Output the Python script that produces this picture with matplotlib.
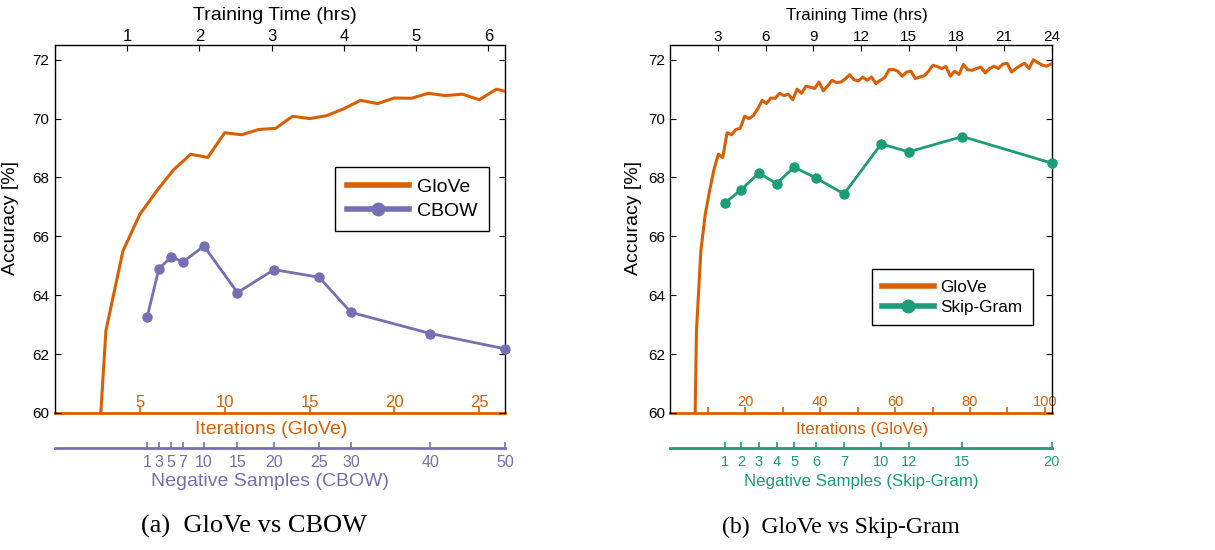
import numpy as np
import matplotlib.pyplot as plt

plt.rcParams['font.family'] = 'Liberation Sans'

ORANGE = '#D95F02'
PURPLE = '#7570B3'
GREEN = '#1B9E77'

# --- GloVe accuracy per iteration (iterations 2..84), same run in both panels ---
glove_iters = np.arange(2, 85)
glove_acc = [53.5, 62.8, 65.5, 66.75, 67.55, 68.27, 68.79, 68.68,
             69.52, 69.45, 69.63, 69.67, 70.08, 70.0, 70.1, 70.33, 70.62, 70.51,
             70.7, 70.69, 70.86, 70.78, 70.83, 70.64, 71.0, 70.86, 71.1, 71.07,
             71.02, 71.24, 70.94, 71.12, 71.3, 71.22, 71.24, 71.35, 71.49, 71.32,
             71.28, 71.41, 71.3, 71.41, 71.19, 71.3, 71.39, 71.66, 71.67, 71.61,
             71.44, 71.58, 71.61, 71.36, 71.41, 71.45, 71.6, 71.81, 71.77, 71.7,
             71.77, 71.44, 71.61, 71.5, 71.84, 71.66, 71.64, 71.7, 71.75, 71.55,
             71.7, 71.78, 71.7, 71.85, 71.88, 71.58, 71.7, 71.8, 71.88, 71.7,
             72.0, 71.9, 71.82, 71.78, 71.85]

# --- CBOW (panel a) ---
cbow_hrs = [1.277, 1.438, 1.61, 1.771, 2.062, 2.526, 3.033, 3.657, 4.097, 5.197, 6.23]
cbow_acc = [63.27, 64.9, 65.3, 65.13, 65.67, 64.09, 64.87, 64.61, 63.42, 62.7, 62.18]
cbow_neg = [1, 3, 5, 7, 10, 15, 20, 25, 30, 40, 50]

# --- Skip-Gram (panel b) ---
sg_hrs = [3.44, 4.44, 5.56, 6.68, 7.78, 9.17, 10.92, 13.27, 15.0, 18.38, 24.0]
sg_acc = [67.14, 67.58, 68.15, 67.79, 68.35, 67.98, 67.44, 69.14, 68.87, 69.39, 68.49]
sg_neg = [1, 2, 3, 4, 5, 6, 7, 10, 12, 15, 20]

# hours per GloVe iteration as drawn in each panel
hpi_a = 0.235
t0_b, hpi_b = 0.809, 0.2755
iter_hpi_b = 0.2357   # scale used by the iteration axis in panel (b)

fig = plt.figure(figsize=(12.15, 5.5), dpi=100)


def panel(rect, glove_hrs, o_hrs, o_acc, o_neg, o_name, o_color, xmax, iter_hpi,
          iter_ticks, iter_labels, hr_ticks, fs, cx, leg_anchor, hlen):
    ax = fig.add_axes(rect)
    ax.plot(glove_hrs, glove_acc, color=ORANGE, lw=2.2, label='GloVe', zorder=3)
    ax.plot(o_hrs, o_acc, color=o_color, lw=2.0, marker='o', ms=6.5,
            label=o_name, clip_on=False, zorder=4)
    ax.set_xlim(0, xmax)
    ax.set_ylim(60, 72.5)
    ax.set_yticks(np.arange(60, 73, 2))
    ax.tick_params(axis='y', direction='in', left=True, right=True, length=4,
                   labelsize=11, pad=4)
    ax.xaxis.tick_top()
    ax.set_xticks(hr_ticks)
    ax.tick_params(axis='x', direction='in', length=4, labelsize=fs['top'], pad=1)
    for s in ['left', 'right', 'top']:
        ax.spines[s].set_linewidth(1.0)
    ax.spines['bottom'].set_visible(False)

    # iterations axis (labels inside the plot)
    it = ax.secondary_xaxis('bottom', functions=(lambda h: h / iter_hpi,
                                                 lambda i: i * iter_hpi))
    it.set_xticks(iter_ticks, labels=iter_labels)
    it.tick_params(direction='in', length=4, width=1.2, colors=ORANGE,
                   labelsize=fs['iter'], pad=fs['ipad'])
    for lab in it.get_xticklabels():
        lab.set_verticalalignment('baseline')
    it.spines['bottom'].set_color(ORANGE)
    it.spines['bottom'].set_linewidth(2)

    # negative samples axis
    ng = ax.secondary_xaxis(-0.095)
    ng.set_xticks(o_hrs, labels=[str(n) for n in o_neg])
    ng.tick_params(direction='in', length=4, width=1.2, colors=o_color,
                   labelsize=fs['neg'], pad=5)
    ng.spines['bottom'].set_color(o_color)
    ng.spines['bottom'].set_linewidth(2)

    ax.text(cx[0], -0.0435, 'Iterations (GloVe)', transform=ax.transAxes,
            ha='center', va='center', color=ORANGE, fontsize=fs['lab'])
    ax.text(cx[1], -0.185, f'Negative Samples ({o_name})', transform=ax.transAxes,
            ha='center', va='center', color=o_color, fontsize=fs['lab'])
    ax.text(cx[2], 1.08, 'Training Time (hrs)', transform=ax.transAxes,
            ha='center', va='center', fontsize=fs['lab'])
    ax.text(cx[3], 0.53, 'Accuracy [%]', transform=ax.transAxes, rotation=90,
            ha='center', va='center', fontsize=14)

    leg = ax.legend(loc='upper left', bbox_to_anchor=leg_anchor, borderaxespad=0,
                    fancybox=False, edgecolor='black', framealpha=1,
                    fontsize=fs['leg'], handlelength=hlen, borderpad=0.6,
                    handletextpad=0.4, labelspacing=0.3)
    leg.get_frame().set_linewidth(1.0)
    for h in leg.get_lines():
        h.set_linewidth(4)
        h.set_markersize(9)
    return ax


panel([0.04527, 0.2491, 0.37037, 0.66909], glove_iters * hpi_a,
      cbow_hrs, cbow_acc, cbow_neg, 'CBOW', PURPLE, 6.23, hpi_a,
      [5, 10, 15, 20, 25], ['5', '10', '15', '20', '25'], [1, 2, 3, 4, 5, 6],
      dict(top=12, iter=12, ipad=-4, neg=11.5, lab=14, leg=14),
      (0.48, 0.478, 0.488, -0.1), (0.622, 0.669), 3.2)

it_b = list(range(10, 101, 10))
panel([0.55185, 0.2491, 0.31374, 0.66909], t0_b + glove_iters * hpi_b,
      sg_hrs, sg_acc, sg_neg, 'Skip-Gram', GREEN, 24.0, iter_hpi_b,
      it_b, [str(t) if t % 20 == 0 else '' for t in it_b],
      [3, 6, 9, 12, 15, 18, 21, 24],
      dict(top=11, iter=10.5, ipad=-5, neg=10.5, lab=12.2, leg=12.3),
      (0.5016, 0.5, 0.49, -0.098), (0.529, 0.39), 3.0)

fig.text(254 / 1215, 1 - 526.7 / 550, '(a)  GloVe vs CBOW', family='Liberation Serif',
         fontsize=19, ha='center', va='center')
fig.text(841 / 1215, 1 - 527.5 / 550, '(b)  GloVe vs Skip-Gram', family='Liberation Serif',
         fontsize=17, ha='center', va='center')

fig.savefig('out.png', dpi=100)
